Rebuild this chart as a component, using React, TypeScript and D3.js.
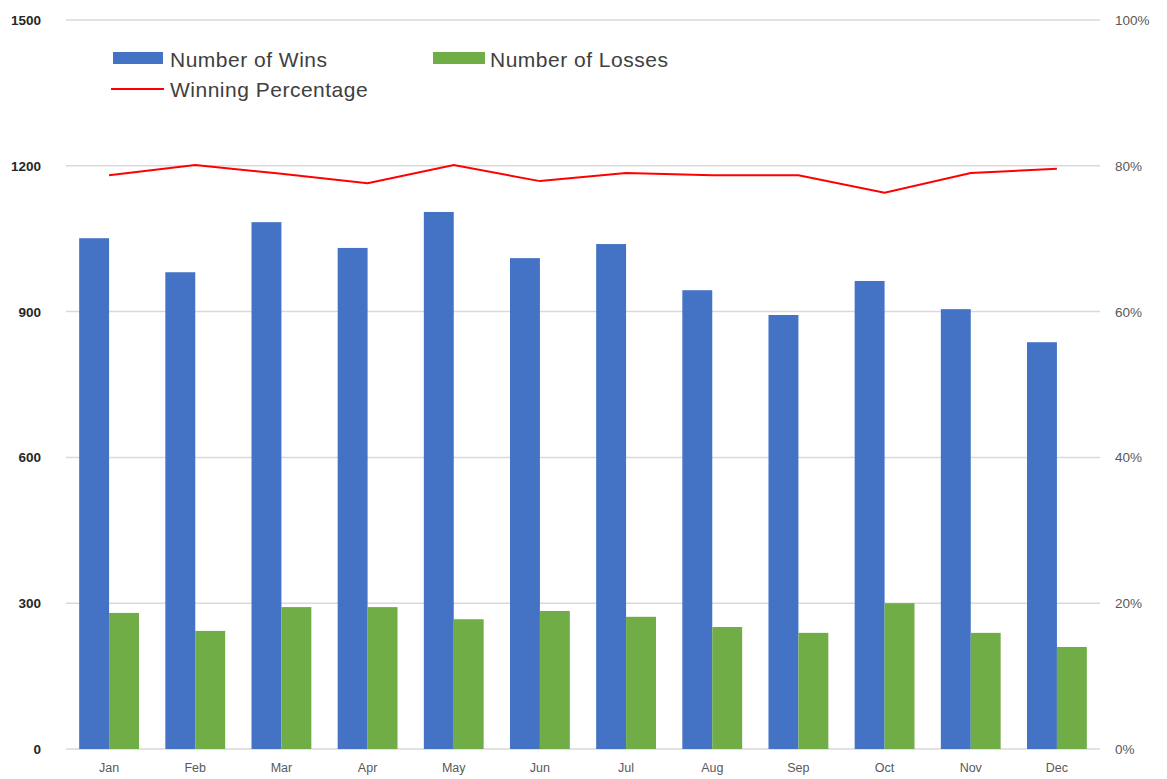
import React from "react";
import * as d3 from "d3";

const months = ["Jan", "Feb", "Mar", "Apr", "May", "Jun", "Jul", "Aug", "Sep", "Oct", "Nov", "Dec"];
const wins = [1051, 981, 1084, 1031, 1105, 1010, 1039, 944, 893, 963, 905, 837];
const losses = [280, 243, 292, 292, 267, 284, 272, 251, 239, 300, 239, 210];
const winPct = [0.787, 0.801, 0.789, 0.776, 0.801, 0.779, 0.79, 0.787, 0.787, 0.763, 0.79, 0.796];
const leftTicks = [0, 300, 600, 900, 1200, 1500];
const rightTicks = [0, 0.2, 0.4, 0.6, 0.8, 1.0];

const W = 1167;
const H = 779;
const left = 66;
const right = 1100;
const top = 20;
const bottom = 749;

export default function App() {
  const x = d3.scaleBand<string>().domain(months).range([left, right]).paddingInner(0).paddingOuter(0);
  const inner = d3.scaleBand<string>().domain(["w", "l"]).range([0, x.bandwidth()]).paddingInner(0).paddingOuter(0.44);
  const y = d3.scaleLinear().domain([0, 1500]).range([bottom, top]);
  const y2 = d3.scaleLinear().domain([0, 1]).range([bottom, top]);
  const line = d3
    .line<number>()
    .x((_, i) => (x(months[i]) as number) + x.bandwidth() / 2)
    .y((d) => y2(d));
  const font = "'Liberation Sans', Arial, sans-serif";
  return (
    <svg width={W} height={H} style={{ position: "absolute", left: 0, top: 0, background: "#fff" }}>
      {leftTicks.map((t) => (
        <line key={"g" + t} x1={left} x2={right} y1={y(t)} y2={y(t)} stroke="#d9d9d9" strokeWidth={1.5} />
      ))}
      {months.map((m, i) => (
        <g key={m}>
          <rect
            x={(x(m) as number) + (inner("w") as number)}
            y={y(wins[i])}
            width={inner.bandwidth()}
            height={bottom - y(wins[i])}
            fill="#4472c4"
          />
          <rect
            x={(x(m) as number) + (inner("l") as number)}
            y={y(losses[i])}
            width={inner.bandwidth()}
            height={bottom - y(losses[i])}
            fill="#70ad47"
          />
          <text
            x={(x(m) as number) + x.bandwidth() / 2}
            y={772}
            textAnchor="middle"
            fontFamily={font}
            fontSize={12.5}
            fill="#595959"
          >
            {m}
          </text>
        </g>
      ))}
      <path d={line(winPct) || ""} fill="none" stroke="#ff0000" strokeWidth={2} />
      {leftTicks.map((t) => (
        <text key={"l" + t} x={41} y={y(t) + 5} textAnchor="end" fontFamily={font} fontSize={13.5} fontWeight="bold" fill="#262626">
          {t}
        </text>
      ))}
      {rightTicks.map((t) => (
        <text key={"r" + t} x={1115} y={y2(t) + 5} textAnchor="start" fontFamily={font} fontSize={13.5} fill="#595959">
          {d3.format(".0%")(t)}
        </text>
      ))}
      <g fontFamily={font} fontSize={21} letterSpacing={0.5} fill="#404040">
        <rect x={113} y={52} width={50} height={12} fill="#4472c4" />
        <text x={170} y={67}>Number of Wins</text>
        <rect x={433} y={52} width={52} height={12} fill="#70ad47" />
        <text x={490} y={67}>Number of Losses</text>
        <line x1={111} x2={164} y1={89} y2={89} stroke="#ff0000" strokeWidth={2} />
        <text x={170} y={97}>Winning Percentage</text>
      </g>
    </svg>
  );
}
